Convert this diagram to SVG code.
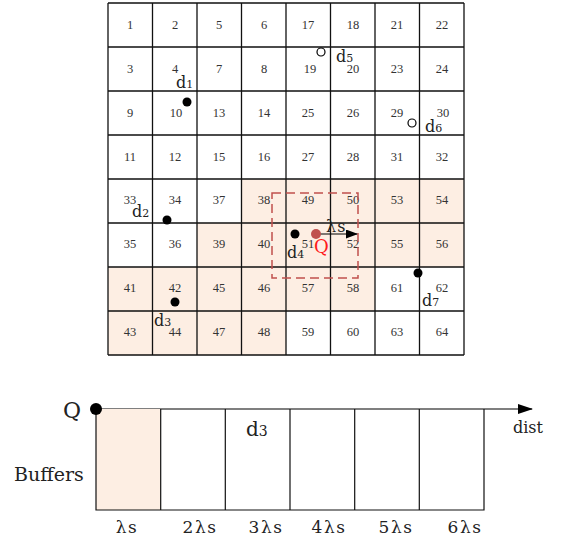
<svg xmlns="http://www.w3.org/2000/svg" width="563" height="539" viewBox="0 0 563 539">
<defs>
<style>
.n{font-family:"Liberation Serif","DejaVu Serif",serif;font-size:12.5px;fill:#333;text-anchor:middle}
.lb{font-family:"DejaVu Serif","Liberation Serif",serif;font-size:16px;fill:#222}
.sub{font-size:11px}
.ax{font-family:"DejaVu Serif","Liberation Serif",serif;font-size:17px;fill:#222;text-anchor:middle;letter-spacing:1.5px}
.g{stroke:#111;stroke-width:1.3;fill:none}
.sh{fill:#fdeee3}
.bx{fill:none;stroke:#111;stroke-width:1.2}
</style>
<marker id="ah" markerWidth="12" markerHeight="9" refX="11" refY="4.5" orient="auto" markerUnits="userSpaceOnUse">
<path d="M0,0 L12,4.5 L0,9 Z" fill="#000"/>
</marker>
<marker id="ah2" markerWidth="15" markerHeight="10" refX="14" refY="5" orient="auto" markerUnits="userSpaceOnUse">
<path d="M0,0 L15,5 L0,10 Z" fill="#000"/>
</marker>
</defs>
<rect width="563" height="539" fill="#fff"/>

<g id="grid">
<rect class="sh" x="242" y="179" width="222" height="44"/>
<rect class="sh" x="197" y="223" width="267" height="44"/>
<rect class="sh" x="108" y="267" width="267" height="44"/>
<rect class="sh" x="108" y="311" width="178" height="44"/>
<path class="g" d="M108,3 V355 M152.5,3 V355 M197,3 V355 M241.5,3 V355 M286,3 V355 M330.5,3 V355 M375,3 V355 M419.5,3 V355 M464,3 V355 M108,3 H464 M108,47 H464 M108,91 H464 M108,135 H464 M108,179 H464 M108,223 H464 M108,267 H464 M108,311 H464 M108,355 H464"/>
<g>
<text class="n" x="130" y="29">1</text><text class="n" x="175" y="29">2</text><text class="n" x="219" y="29">5</text><text class="n" x="264" y="29">6</text><text class="n" x="308" y="29">17</text><text class="n" x="353" y="29">18</text><text class="n" x="397" y="29">21</text><text class="n" x="442" y="29">22</text>
<text class="n" x="130" y="73">3</text><text class="n" x="175" y="73">4</text><text class="n" x="219" y="73">7</text><text class="n" x="264" y="73">8</text><text class="n" x="310" y="73">19</text><text class="n" x="353" y="73">20</text><text class="n" x="397" y="73">23</text><text class="n" x="442" y="73">24</text>
<text class="n" x="130" y="117">9</text><text class="n" x="176" y="117">10</text><text class="n" x="219" y="117">13</text><text class="n" x="264" y="117">14</text><text class="n" x="308" y="117">25</text><text class="n" x="353" y="117">26</text><text class="n" x="397" y="117">29</text><text class="n" x="443" y="117">30</text>
<text class="n" x="130" y="161">11</text><text class="n" x="175" y="161">12</text><text class="n" x="219" y="161">15</text><text class="n" x="264" y="161">16</text><text class="n" x="308" y="161">27</text><text class="n" x="353" y="161">28</text><text class="n" x="397" y="161">31</text><text class="n" x="442" y="161">32</text>
<text class="n" x="130" y="204">33</text><text class="n" x="175" y="204">34</text><text class="n" x="219" y="204">37</text><text class="n" x="264" y="204">38</text><text class="n" x="308" y="204">49</text><text class="n" x="353" y="204">50</text><text class="n" x="397" y="204">53</text><text class="n" x="442" y="204">54</text>
<text class="n" x="130" y="248">35</text><text class="n" x="175" y="248">36</text><text class="n" x="219" y="248">39</text><text class="n" x="264" y="248">40</text><text class="n" x="308" y="248">51</text><text class="n" x="353" y="248">52</text><text class="n" x="397" y="248">55</text><text class="n" x="442" y="248">56</text>
<text class="n" x="130" y="292">41</text><text class="n" x="175" y="292">42</text><text class="n" x="219" y="292">45</text><text class="n" x="264" y="292">46</text><text class="n" x="308" y="292">57</text><text class="n" x="353" y="292">58</text><text class="n" x="397" y="292">61</text><text class="n" x="442" y="292">62</text>
<text class="n" x="130" y="336">43</text><text class="n" x="175" y="336">44</text><text class="n" x="219" y="336">47</text><text class="n" x="264" y="336">48</text><text class="n" x="308" y="336">59</text><text class="n" x="353" y="336">60</text><text class="n" x="397" y="336">63</text><text class="n" x="442" y="336">64</text>
</g>
</g>

<g id="range">
<rect x="272" y="193" width="86" height="85" fill="none" stroke="#c0504d" stroke-width="1.5" stroke-dasharray="9,5"/>
</g>

<g id="connectors">
<line x1="316" y1="234" x2="357" y2="234" stroke="#000" stroke-width="1.2" marker-end="url(#ah)"/>
<line x1="96" y1="409" x2="532" y2="409" stroke="#000" stroke-width="1.2" marker-end="url(#ah2)"/>
</g>

<g id="d1"><circle cx="187" cy="102" r="4.5" fill="#000"/><text class="lb" x="176" y="88">d<tspan class="sub">1</tspan></text></g>
<g id="d2"><circle cx="167" cy="220" r="4.5" fill="#000"/><text class="lb" x="132" y="217">d<tspan class="sub">2</tspan></text></g>
<g id="d3"><circle cx="175" cy="302" r="4.5" fill="#000"/><text class="lb" x="154" y="326">d<tspan class="sub">3</tspan></text></g>
<g id="d4"><circle cx="295" cy="234" r="4.5" fill="#000"/><text class="lb" x="287" y="258">d<tspan class="sub">4</tspan></text></g>
<g id="d5"><circle cx="321" cy="52" r="4" fill="#fff" stroke="#000" stroke-width="1.2"/><text class="lb" x="336" y="62">d<tspan class="sub">5</tspan></text></g>
<g id="d6"><circle cx="412" cy="123" r="4" fill="#fff" stroke="#000" stroke-width="1.2"/><text class="lb" x="425" y="132">d<tspan class="sub">6</tspan></text></g>
<g id="d7"><circle cx="418" cy="273" r="4.5" fill="#000"/><text class="lb" x="422" y="306">d<tspan class="sub">7</tspan></text></g>
<g id="q"><circle cx="316" cy="234" r="5" fill="#c0504d"/><text class="lb" x="314" y="253" style="fill:#ff1a1a;font-size:18px">Q</text><text class="lb" x="326" y="232" style="font-size:16px;letter-spacing:1px">λs</text></g>

<g id="buffers">
<rect x="96" y="409" width="64.7" height="101" fill="#fdeee3"/>
<path class="bx" d="M96,409 V510 H484 V409 M160.7,409 V510 M225.3,409 V510 M290,409 V510 M354.7,409 V510 M419.3,409 V510"/>
<circle cx="96" cy="409" r="6" fill="#000"/>
<text class="lb" x="63" y="418" style="font-size:22px">Q</text>
<text class="lb" x="14" y="481" style="font-size:19px">Buffers</text>
<text class="lb" x="246" y="436" style="font-size:20px">d<tspan style="font-size:14px">3</tspan></text>
<text class="lb" x="513" y="433" style="font-size:16px">dist</text>
<text class="ax" x="127" y="533">λs</text>
<text class="ax" x="200" y="533">2λs</text>
<text class="ax" x="266" y="533">3λs</text>
<text class="ax" x="329" y="533">4λs</text>
<text class="ax" x="396" y="533">5λs</text>
<text class="ax" x="465" y="533">6λs</text>
</g>
</svg>
